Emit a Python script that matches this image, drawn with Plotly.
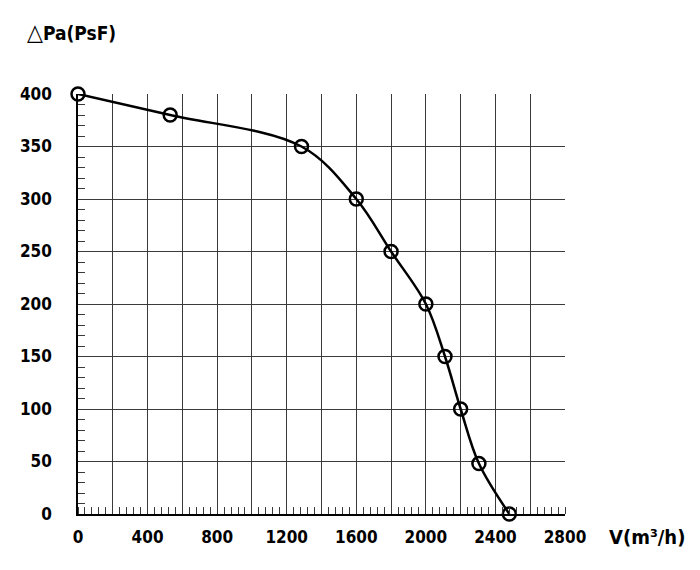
import plotly.graph_objects as go

# fan curve
flow = [0, 530, 1285, 1600, 1800, 2000, 2110, 2200, 2305, 2480]
pressure = [400, 380, 350, 300, 250, 200, 150, 100, 48, 0]

x_grid = [0, 200, 400, 600, 800, 1000, 1200, 1400, 1600, 1800, 2000, 2200, 2400, 2600, 2800]
x_labels = ["0", "", "400", "", "800", "", "1200", "", "1600", "", "2000", "", "2400", "", "2800"]

font_family = "DejaVu Sans Condensed, DejaVu Sans, sans-serif"
grid_col = "#3a3a3a"

def txt(size):
    return dict(family=font_family, size=size, color="black", weight="bold")

fig = go.Figure()
fig.add_trace(go.Scatter(
    x=flow, y=pressure, mode="lines+markers",
    line=dict(color="black", width=2.5, shape="spline", smoothing=1.0),
    marker=dict(symbol="circle-open", size=13, color="black", line=dict(width=2.5)),
    cliponaxis=False, showlegend=False,
))

fig.update_xaxes(
    range=[0, 2800], tickmode="array", tickvals=x_grid, ticktext=x_labels,
    showgrid=True, gridcolor=grid_col, gridwidth=1,
    showline=True, linecolor="black", linewidth=1.5,
    ticks="", ticklabelstandoff=7, zeroline=False,
    minor=dict(tickmode="linear", tick0=0, dtick=40, ticks="inside", ticklen=7,
               tickcolor=grid_col, tickwidth=1, showgrid=False),
    tickfont=txt(17),
)
fig.update_yaxes(
    range=[0, 400], dtick=50, tick0=0,
    showgrid=True, gridcolor=grid_col, gridwidth=1,
    showline=True, linecolor="black", linewidth=1.5,
    ticks="", ticklabelstandoff=21, zeroline=False,
    minor=dict(tickmode="linear", tick0=0, dtick=10, ticks="inside", ticklen=7,
               tickcolor=grid_col, tickwidth=1, showgrid=False),
    tickfont=txt(17),
)

fig.add_annotation(text="<span style='font-size:23px'>△</span>Pa(PsF)",
                   xref="paper", yref="paper", x=0, y=1,
                   xanchor="left", yanchor="middle", xshift=-53, yshift=62,
                   showarrow=False, font=txt(19))
fig.add_annotation(text="V(m³/h)", xref="paper", yref="paper", x=1, y=0,
                   xanchor="left", yanchor="middle", xshift=42, yshift=-23,
                   showarrow=False, font=txt(20))

# page body adds ~8px offset, so margins are pulled in to compensate
fig.update_layout(
    width=700, height=570,
    margin=dict(l=66, r=143, t=86, b=64),
    paper_bgcolor="white", plot_bgcolor="white",
)
fig.write_html("out.html")
